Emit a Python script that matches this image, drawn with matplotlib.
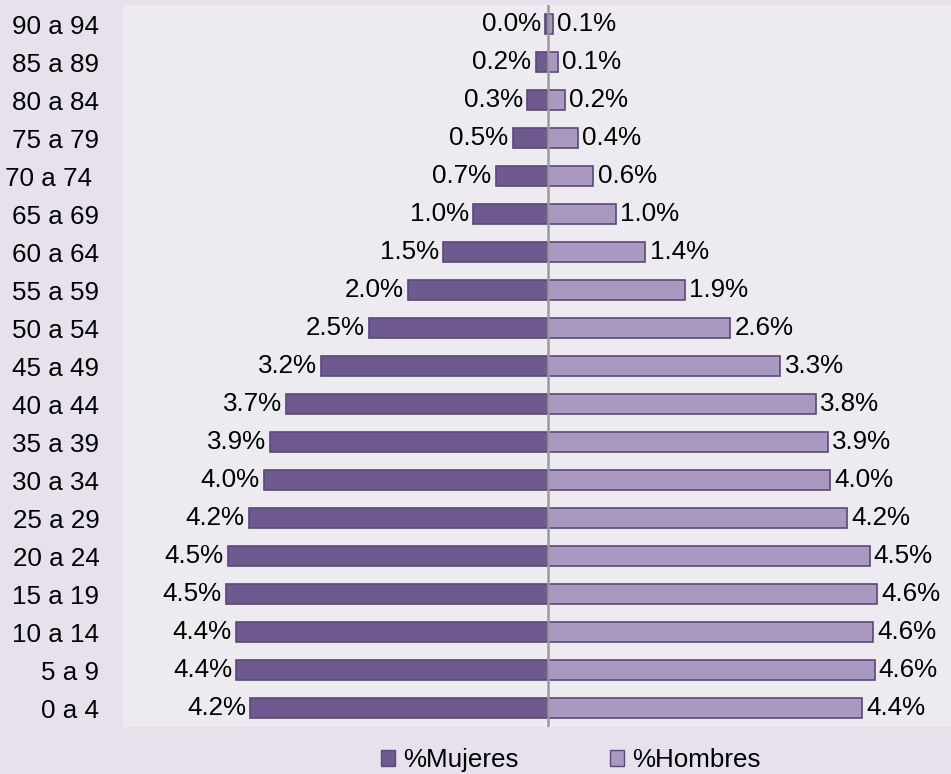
import matplotlib.pyplot as plt
from matplotlib.patches import Patch

plt.rcParams['font.family'] = ['Liberation Sans', 'DejaVu Sans']

# age groups, bottom to top
grupos = ['0 a 4', '5 a 9', '10 a 14', '15 a 19', '20 a 24', '25 a 29', '30 a 34',
          '35 a 39', '40 a 44', '45 a 49', '50 a 54', '55 a 59', '60 a 64',
          '65 a 69', '70 a 74 ', '75 a 79', '80 a 84', '85 a 89', '90 a 94']

# percentages
mujeres = [4.17, 4.36, 4.37, 4.51, 4.48, 4.19, 3.98, 3.89, 3.66, 3.17, 2.51,
           1.96, 1.46, 1.04, 0.73, 0.49, 0.29, 0.17, 0.04]
hombres = [4.40, 4.58, 4.56, 4.62, 4.51, 4.19, 3.96, 3.92, 3.76, 3.26, 2.56,
           1.92, 1.37, 0.96, 0.64, 0.42, 0.24, 0.14, 0.07]

col_m = '#6F5A8F'
col_h = '#A998BF'
edge = '#5A4878'

fig = plt.figure(figsize=(9.51, 7.74), dpi=100)
fig.patch.set_facecolor('#E6E1EC')
ax = fig.add_axes([123 / 951, 47 / 774, 1 - 123 / 951, 722 / 774])
ax.set_facecolor('#EDEBF0')

y = list(range(len(grupos)))
neg = [-v for v in mujeres]
ax.barh(y, neg, height=0.53, color=col_m, edgecolor=edge, linewidth=1.2)
ax.barh(y, hombres, height=0.53, color=col_h, edgecolor=edge, linewidth=1.2)

fs = 18.7
for i in y:
    ax.annotate(f'{mujeres[i]:.1f}%', (-mujeres[i], i), xytext=(-3, 0),
                textcoords='offset points', ha='right', va='center', fontsize=fs)
    ax.annotate(f'{hombres[i]:.1f}%', (hombres[i], i), xytext=(3, 0),
                textcoords='offset points', ha='left', va='center', fontsize=fs)

ax.axvline(0, color='#9A9A9A', linewidth=1.8, zorder=3)

ax.set_xlim(-5.95, 5.65)
ax.set_ylim(-0.5, len(grupos) - 0.5)
ax.set_yticks(y)
ax.set_yticklabels(grupos, fontsize=fs)
ax.tick_params(axis='y', length=0, pad=17)
ax.set_xticks([])
for s in ax.spines.values():
    s.set_visible(False)

handles = [Patch(facecolor=col_m, edgecolor=edge, label='%Mujeres'),
           Patch(facecolor=col_h, edgecolor=edge, label='%Hombres')]
fig.legend(handles=handles, loc='center', bbox_to_anchor=(0.6, 14 / 774),
           ncol=2, frameon=False, fontsize=fs, handlelength=0.55,
           handleheight=0.55, handletextpad=0.3, columnspacing=3.5)

plt.savefig('out.png', dpi=100, facecolor=fig.get_facecolor())
